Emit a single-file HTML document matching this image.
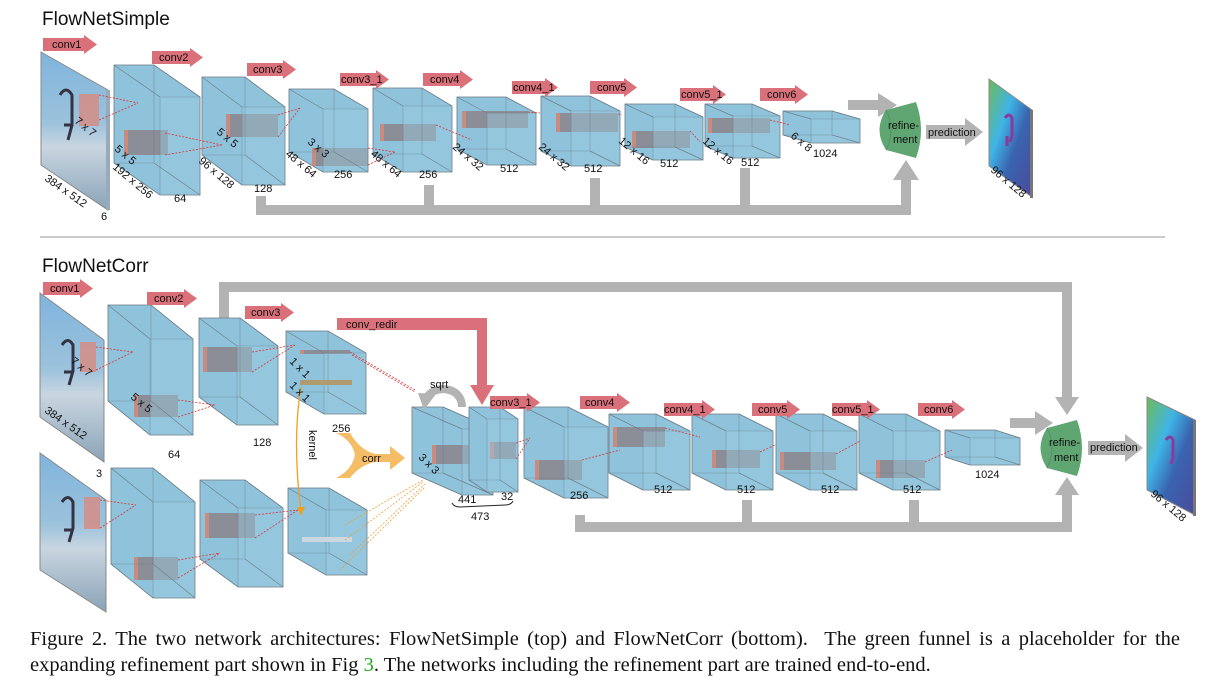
<!DOCTYPE html>
<html><head><meta charset="utf-8"><style>
html,body{margin:0;padding:0;background:#fff;}
#wrap{position:relative;width:1223px;height:691px;overflow:hidden;}
svg{position:absolute;left:0;top:0;}
svg text{font-family:"Liberation Sans",sans-serif;font-size:11px;fill:#111;}
.cap{position:absolute;left:30px;font-family:"Liberation Serif",serif;font-size:20.5px;color:#111;white-space:nowrap;}
</style></head><body><div id="wrap">
<svg id="s" width="1223" height="691" viewBox="0 0 1223 691">
<defs>
<linearGradient id="img" x1="0" y1="0" x2="0" y2="1">
<stop offset="0" stop-color="#7fb4dd"/><stop offset="0.45" stop-color="#9cc2dc"/><stop offset="0.6" stop-color="#c9d6e0"/><stop offset="1" stop-color="#8aa3b8"/></linearGradient>
<linearGradient id="flow" x1="0" y1="0" x2="1" y2="1">
<stop offset="0" stop-color="#6dbb5a"/><stop offset="0.35" stop-color="#3fb4e6"/><stop offset="0.6" stop-color="#3a64b0"/><stop offset="1" stop-color="#4a4a9a"/></linearGradient>
</defs>
<g id="g"></g>
<text x="42" y="25" style="font-size:19px">FlowNetSimple</text>
<text x="42" y="272" style="font-size:19px">FlowNetCorr</text>
<line x1="40" y1="237" x2="1165" y2="237" stroke="#999" stroke-width="1"/>
</svg>
<div class="cap" style="top:628px;width:1150px;text-align:justify;text-align-last:justify;white-space:normal">Figure 2. The two network architectures: FlowNetSimple (top) and FlowNetCorr (bottom).&nbsp; The green funnel is a placeholder for the</div>
<div class="cap" style="top:654px">expanding refinement part shown in Fig <span style="color:#2a2">3</span>. The networks including the refinement part are trained end-to-end.</div>
</div>
<script>
var NS="http://www.w3.org/2000/svg",G=document.getElementById('g');
function el(t,a,p){var e=document.createElementNS(NS,t);for(var k in a)e.setAttribute(k,a[k]);(p||G).appendChild(e);return e;}
function gray(pts){el('polygon',{points:pts,fill:'#b3b3b3'});}
function box(x0,y0,X1,Y1,dx,dy,inner){
 var bx=X1-dx,by=Y1-dy;
 el('polygon',{points:[x0,y0,bx,y0,X1,y0+dy,X1,Y1,x0+dx,Y1,x0,by].join(' '),fill:'#8fc3dc',stroke:'#7a8a94','stroke-width':0.8});
 if(inner){var a=inner;el('rect',{x:a[0],y:a[1],width:a[2]-a[0],height:a[3]-a[1],fill:'#8a7f86',opacity:0.8});el('rect',{x:a[0],y:a[1],width:4,height:a[3]-a[1],fill:'#c98a80'});}
 el('polygon',{points:[x0+dx,y0+dy,X1,y0+dy,X1,Y1,x0+dx,Y1].join(' '),fill:'#9ccde2',opacity:0.45,stroke:'#6e7f89','stroke-width':0.8});
 el('polyline',{points:[x0,y0,bx,y0,bx,by,x0,by,x0,y0].join(' '),fill:'none',stroke:'#6e7f89','stroke-width':0.6,opacity:0.7});
 [[x0,y0,x0+dx,y0+dy],[bx,y0,X1,y0+dy],[bx,by,X1,Y1],[x0,by,x0+dx,Y1]].forEach(function(l){el('line',{x1:l[0],y1:l[1],x2:l[2],y2:l[3],stroke:'#6e7f89','stroke-width':0.7});});
}
function dash(x1,y1,x2,y2,c){el('line',{x1:x1,y1:y1,x2:x2,y2:y2,stroke:c||'#d33','stroke-width':0.8,'stroke-dasharray':'2,1.5'});}
function red(x,y,w){var h=13;el('polygon',{points:[x,y,x+w-13,y,x+w-13,y-3,x+w,y+h/2,x+w-13,y+h+3,x+w-13,y+h,x,y+h].join(' '),fill:'#d9707a'});}
function plane(pts,fill){el('polygon',{points:pts,fill:fill,stroke:'#888','stroke-width':1});}
function funnel(x,y){el('path',{d:'M'+(x+10)+' '+(y+8)+' L'+(x+40)+' '+y+' Q'+(x+50)+' '+(y+28)+' '+(x+40)+' '+(y+56)+' L'+(x+10)+' '+(y+48)+' Q'+(x-3)+' '+(y+28)+' '+(x+10)+' '+(y+8)+'Z',fill:'#5fa672'});
 el('path',{d:'M'+(x+10)+' '+(y+8)+' Q'+(x+20)+' '+(y+28)+' '+(x+10)+' '+(y+48),stroke:'#4e8f60',fill:'none','stroke-width':0.8});}

// TOP
plane('41,52 108,90 108,210 41,165','url(#img)');
el('rect',{x:106,y:90,width:4,height:120,fill:'#9ab'});
el('path',{d:'M60 95 q6-10 12 0 l0 30 l-4 15 M64 125 l8 0',stroke:'#334',fill:'none','stroke-width':3});
el('rect',{x:79,y:94,width:20,height:32,fill:'#d98a80',opacity:0.8});
box(114,65,200,195,46,32,[124,130,168,155]);
box(202,77,285,185,40,30,[226,114,278,137]);
box(289,89,368,172,34,20,[312,148,368,166]);
box(373,88,452,172,30,18,[380,124,436,141]);
box(457,97,536,165,30,16,[462,111,528,128]);
box(541,96,620,166,30,15,[556,113,618,132]);
box(625,104,703,160,28,13,[632,131,690,148]);
box(705,104,780,158,28,12,[708,118,770,133]);
box(783,111,860,143,28,8);
[[99,95,138,103],[99,120,138,103],[165,133,222,145],[165,155,222,145],[278,115,300,108],[278,137,300,108],[368,148,395,152],[368,165,395,152],[436,125,472,140],[528,112,540,113],[618,114,622,115],[690,131,700,142],[770,120,790,125]].forEach(function(l){dash(l[0],l[1],l[2],l[3]);});
red(43,38,54);red(152,51,51);red(247,63,49);red(340,73,49);red(423,73,50);red(512,81,46);red(590,81,47);red(680,88,46);red(760,88,48);
gray('256,196 266,196 266,205 424,205 424,185 434,185 434,205 590,205 590,178 600,178 600,205 740,205 740,168 750,168 750,205 901,205 901,180 893,180 906,160 919,180 911,180 911,215 256,215');
gray('848,100 878,100 878,93 897,105 878,117 878,110 848,110');
funnel(876,102);
gray('926,125 965,125 965,118 983,132 965,146 965,139 926,139');
plane('989,79 1032,110 1032,197 989,166','url(#flow)');
el('rect',{x:1030,y:110,width:3,height:88,fill:'#777'});
el('path',{d:'M1005 118 q4-6 7 0 l0 18 l-2 6 M1007 136 l0 10',stroke:'#8a3a9a',fill:'none','stroke-width':3});

// BOTTOM
gray('219,282 1072,282 1072,397 1079,397 1067,415 1055,397 1062,397 1062,292 229,292 229,320 219,320');
plane('40,293 104,340 104,462 40,417','url(#img)');
plane('40,453 106,500 106,612 40,570','url(#img)');
el('path',{d:'M62 345 q6-9 11 0 l0 26 l-4 14 M64 372 l8 0',stroke:'#334',fill:'none','stroke-width':3});
el('path',{d:'M62 502 q6-9 11 0 l0 26 l-4 14 M64 530 l8 0',stroke:'#334',fill:'none','stroke-width':3});
el('rect',{x:80,y:342,width:16,height:30,fill:'#d98a80',opacity:0.8});
el('rect',{x:84,y:497,width:16,height:32,fill:'#d98a80',opacity:0.8});
box(108,305,193,435,42,34,[134,395,178,417]);
box(199,318,278,425,38,28,[203,347,252,372]);
box(286,331,366,414,38,22,[300,350,350,354]);
el('rect',{x:300,y:380,width:52,height:5,fill:'#b09a70'});
box(111,468,195,598,42,34,[134,557,178,580]);
box(200,480,283,587,38,28,[205,513,255,538]);
box(288,488,367,575,38,22);
el('rect',{x:302,y:537,width:50,height:5,fill:'#ccd8e0'});
box(412,407,493,495,50,22,[432,445,494,464]);
box(469,407,518,492,18,12,[490,442,516,459]);
box(524,407,608,498,40,20,[535,460,582,480]);
box(609,414,690,490,34,17,[613,427,665,447]);
box(692,414,773,490,34,17,[712,450,760,468]);
box(776,414,857,490,34,17,[780,452,836,470]);
box(859,414,940,490,34,17,[876,460,925,478]);
box(945,430,1020,465,25,8);
[[96,347,133,352],[96,370,133,352],[178,400,215,405],[178,417,215,405],[252,352,295,345],[252,372,295,345],[350,352,415,390],[352,355,415,392],[100,500,136,505],[100,528,136,505],[178,560,220,553],[178,578,220,553],[255,515,298,510],[255,538,298,510],[516,443,530,438],[516,459,530,438],[582,460,620,450],[665,428,700,437],[760,452,775,445],[836,454,860,441],[925,462,952,450]].forEach(function(l){dash(l[0],l[1],l[2],l[3]);});
[[345,525,423,480],[345,540,423,482],[350,555,425,484],[340,570,425,487]].forEach(function(l){dash(l[0],l[1],l[2],l[3],'#f0a040');});
red(43,282,50);red(147,292,50);red(245,306,49);red(490,396,50);red(580,396,50);red(664,403,51);red(752,403,48);red(832,403,48);red(918,403,47);
el('polygon',{points:'337,318 487,318 487,385 494,385 482,405 470,385 477,385 477,330 337,330',fill:'#d9707a'});
el('path',{d:'M462 407 C462 385 432 385 427 398',stroke:'#b3b3b3',fill:'none','stroke-width':8});
el('polygon',{points:'418,393 436,394 424,410',fill:'#b3b3b3'});
el('path',{d:'M336 433 Q352 440 355 455 Q352 470 336 478 L350 478 Q360 465 375 462 L390 462 L390 470 L405 458 L390 446 L390 454 L375 454 Q360 450 350 433Z',fill:'#f5bd66'});
el('path',{d:'M301 387 Q292 440 301 512',stroke:'#f0a020',fill:'none','stroke-width':1.3});
el('polygon',{points:'297,507 305,507 301,516',fill:'#f0a020'});
el('path',{d:'M452 503 q2 4 8 4 l45 -2 q6 0 8 -4',stroke:'#222',fill:'none','stroke-width':1});
gray('575,515 585,515 585,522 742,522 742,500 752,500 752,522 909,522 909,500 919,500 919,522 1062,522 1062,495 1055,495 1067,477 1079,495 1072,495 1072,532 575,532');
gray('1010,418 1035,418 1035,411 1053,423 1035,435 1035,428 1010,428');
funnel(1037,420);
gray('1088,441 1125,441 1125,434 1143,448 1125,462 1125,455 1088,455');
plane('1147,397 1195,420 1195,515 1147,490','url(#flow)');
el('rect',{x:1193,y:420,width:3,height:96,fill:'#777'});
el('path',{d:'M1166 440 q4-6 7 0 l0 18 l-2 6',stroke:'#8a3a9a',fill:'none','stroke-width':3});
</script>
<svg width="1223" height="691" viewBox="0 0 1223 691" style="pointer-events:none">
<g font-family="Liberation Sans, sans-serif" font-size="10.5" fill="#111">
<text x="52" y="48">conv1</text><text x="159" y="61">conv2</text><text x="253" y="73">conv3</text><text x="341" y="83">conv3_1</text><text x="430" y="83">conv4</text><text x="513" y="91">conv4_1</text><text x="597" y="91">conv5</text><text x="681" y="98">conv5_1</text><text x="767" y="98">conv6</text>
<text x="50" y="292">conv1</text><text x="154" y="302">conv2</text><text x="251" y="316">conv3</text><text x="346" y="328">conv_redir</text><text x="490" y="406">conv3_1</text><text x="585" y="406">conv4</text><text x="664" y="413">conv4_1</text><text x="758" y="413">conv5</text><text x="832" y="413">conv5_1</text><text x="924" y="413">conv6</text>
<g transform="translate(74,122) rotate(40)"><text>7 x 7</text></g>
<g transform="translate(114,150) rotate(40)"><text>5 x 5</text></g>
<g transform="translate(112,168) rotate(40)"><text>192 x 256</text></g>
<g transform="translate(44,180) rotate(35)"><text>384 x 512</text></g>
<text x="101" y="220">6</text><text x="174" y="202">64</text>
<g transform="translate(198,162) rotate(40)"><text>96 x 128</text></g>
<g transform="translate(216,133) rotate(40)"><text>5 x 5</text></g>
<text x="254" y="192">128</text>
<g transform="translate(307,143) rotate(40)"><text>3 x 3</text></g>
<g transform="translate(285,155) rotate(40)"><text>48 x 64</text></g>
<text x="334" y="178">256</text>
<g transform="translate(370,155) rotate(40)"><text>48 x 64</text></g>
<text x="419" y="178">256</text>
<g transform="translate(452,148) rotate(40)"><text>24 x 32</text></g>
<text x="500" y="172">512</text>
<g transform="translate(538,148) rotate(40)"><text>24 x 32</text></g>
<text x="584" y="172">512</text>
<g transform="translate(618,142) rotate(40)"><text>12 x 16</text></g>
<text x="660" y="167">512</text>
<g transform="translate(702,142) rotate(40)"><text>12 x 16</text></g>
<text x="741" y="166">512</text>
<g transform="translate(790,137) rotate(40)"><text>6 x 8</text></g>
<text x="813" y="157">1024</text>
<text x="888" y="129" font-size="10">refine-</text><text x="893" y="143" font-size="10">ment</text>
<text x="928" y="136" font-size="10">prediction</text>
<g transform="translate(990,171) rotate(40)"><text>96 x 128</text></g>
<g transform="translate(70,362) rotate(40)"><text>7 x 7</text></g>
<g transform="translate(130,398) rotate(40)"><text>5 x 5</text></g>
<g transform="translate(44,412) rotate(35)"><text>384 x 512</text></g>
<text x="96" y="477">3</text><text x="168" y="458">64</text><text x="253" y="446">128</text>
<g transform="translate(289,362) rotate(45)"><text>1 x 1</text></g>
<g transform="translate(289,386) rotate(45)"><text>1 x 1</text></g>
<text x="332" y="432">256</text>
<g transform="translate(309,430) rotate(90)"><text>kernel</text></g>
<text x="362" y="462">corr</text><text x="430" y="388">sqrt</text>
<g transform="translate(418,458) rotate(45)"><text>3 x 3</text></g>
<text x="458" y="503">441</text><text x="501" y="500">32</text><text x="471" y="520">473</text>
<text x="570" y="499">256</text><text x="654" y="493">512</text><text x="737" y="493">512</text><text x="821" y="493">512</text><text x="903" y="493">512</text><text x="975" y="478">1024</text>
<text x="1049" y="446" font-size="10">refine-</text><text x="1054" y="461" font-size="10">ment</text>
<text x="1090" y="451" font-size="10">prediction</text>
<g transform="translate(1150,495) rotate(40)"><text>96 x 128</text></g>
</g></svg>
</body></html>
